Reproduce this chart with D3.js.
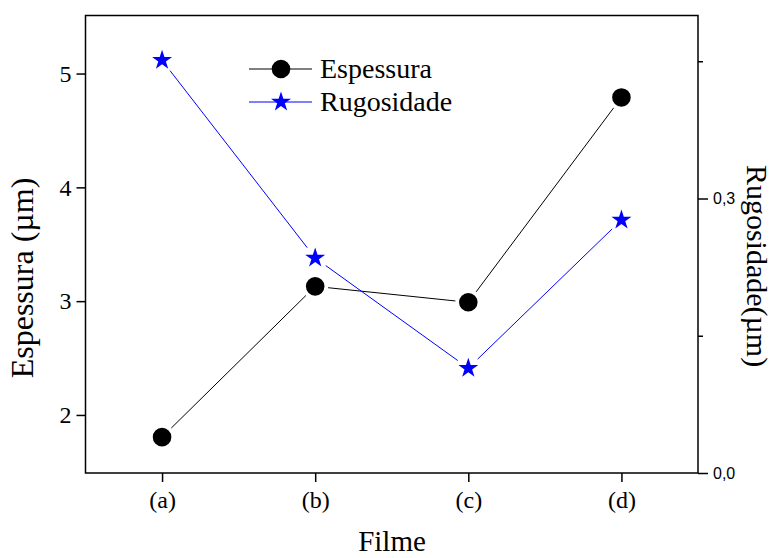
<!DOCTYPE html>
<html>
<head>
<meta charset="utf-8">
<script src="https://cdn.jsdelivr.net/npm/d3@7/dist/d3.min.js"></script>
<style>
  html, body { margin: 0; padding: 0; background: #fff; }
  svg { display: block; }
</style>
</head>
<body>
<svg id="chart" width="779" height="558"></svg>
<script>
// Film samples on the x axis
const categories = ["(a)", "(b)", "(c)", "(d)"];
// Thickness (µm), left axis
const espessura = [1.805, 3.13, 2.99, 4.79];
// Roughness (µm), right axis
const rugosidade = [0.451, 0.235, 0.1146, 0.2766];
// Axis ticks
const leftTicks = [2, 3, 4, 5];
const rightMajorTicks = [0.0, 0.3];
const rightMinorTicks = [0.15, 0.45];

const plot = { left: 85.5, top: 15.5, right: 698, bottom: 473 };
const serif = "'Liberation Serif', 'Times New Roman', serif";
const sans = "'Liberation Sans', Arial, sans-serif";

const svg = d3.select("#chart");

const x = d3.scalePoint().domain(categories).range([plot.left, plot.right]).padding(0.5);
const yL = d3.scaleLinear().domain([1.49, 5.51]).range([plot.bottom, plot.top]);
const yR = d3.scaleLinear().domain([0, 0.5]).range([plot.bottom, plot.top]);

// Axes
const gx = svg.append("g")
  .attr("transform", `translate(0,${plot.bottom})`)
  .call(d3.axisBottom(x).tickSize(9).tickPadding(9).tickSizeOuter(0));
gx.selectAll("text").attr("font-family", serif).attr("font-size", 24).attr("fill", "#000");

const gl = svg.append("g")
  .attr("transform", `translate(${plot.left},0)`)
  .call(d3.axisLeft(yL).tickValues(leftTicks).tickFormat(d3.format("d")).tickSize(9).tickPadding(5).tickSizeOuter(0));
gl.selectAll("text").attr("font-family", serif).attr("font-size", 24).attr("fill", "#000");

const commaFmt = d => d3.format(".1f")(d).replace(".", ",");
const gr = svg.append("g")
  .attr("transform", `translate(${plot.right},0)`)
  .call(d3.axisRight(yR).tickValues(rightMajorTicks).tickFormat(commaFmt).tickSize(10).tickPadding(5).tickSizeOuter(0));
gr.selectAll("text").attr("font-family", sans).attr("font-size", 16).attr("fill", "#000");

const grm = svg.append("g")
  .attr("transform", `translate(${plot.right},0)`)
  .call(d3.axisRight(yR).tickValues(rightMinorTicks).tickFormat("").tickSize(5).tickSizeOuter(0));

[gx, gl, gr, grm].forEach(g => {
  g.select(".domain").remove();
  g.selectAll("line").attr("stroke", "#000").attr("stroke-width", 1.5);
});

// Frame
svg.append("rect")
  .attr("x", plot.left).attr("y", plot.top)
  .attr("width", plot.right - plot.left).attr("height", plot.bottom - plot.top)
  .attr("fill", "none").attr("stroke", "#000").attr("stroke-width", 1.5);

// Connecting segments that stop short of the markers
function gappedSegments(points, gap) {
  const segs = [];
  for (let i = 0; i < points.length - 1; i++) {
    const [x0, y0] = points[i], [x1, y1] = points[i + 1];
    const dx = x1 - x0, dy = y1 - y0, len = Math.hypot(dx, dy);
    const ux = dx / len, uy = dy / len;
    segs.push([x0 + ux * gap, y0 + uy * gap, x1 - ux * gap, y1 - uy * gap]);
  }
  return segs;
}

function drawSeries(values, yScale, color, symbol) {
  const pts = categories.map((c, i) => [x(c), yScale(values[i])]);
  svg.append("g").selectAll("line")
    .data(gappedSegments(pts, 13))
    .join("line")
    .attr("x1", d => d[0]).attr("y1", d => d[1])
    .attr("x2", d => d[2]).attr("y2", d => d[3])
    .attr("stroke", color).attr("stroke-width", 1);
  svg.append("g").selectAll("path")
    .data(pts)
    .join("path")
    .attr("transform", d => `translate(${d[0]},${d[1]})`)
    .attr("d", symbol)
    .attr("fill", color);
}

const circleSym = d3.symbol(d3.symbolCircle, Math.PI * 9.3 * 9.3)();
const starSym = d3.symbol(d3.symbolStar, 124)();

drawSeries(espessura, yL, "#000", circleSym);
drawSeries(rugosidade, yR, "#0000ff", starSym);

// Legend
const legend = [
  { label: "Espessura", color: "#000", sym: circleSym, y: 69 },
  { label: "Rugosidade", color: "#0000ff", sym: starSym, y: 102 }
];
const lg = svg.append("g");
legend.forEach(d => {
  lg.append("line").attr("x1", 249).attr("x2", 312).attr("y1", d.y).attr("y2", d.y)
    .attr("stroke", d.color).attr("stroke-width", 1);
  lg.append("path").attr("transform", `translate(281,${d.y})`).attr("d", d.sym).attr("fill", d.color);
  lg.append("text").attr("x", 320).attr("y", d.y + 9)
    .attr("font-family", serif).attr("font-size", 28).attr("fill", "#000")
    .text(d.label);
});

// Axis titles
svg.append("text")
  .attr("x", 392).attr("y", 551).attr("text-anchor", "middle")
  .attr("font-family", serif).attr("font-size", 29).attr("fill", "#000")
  .text("Filme");

svg.append("text")
  .attr("transform", "translate(33,278) rotate(-90)").attr("text-anchor", "middle")
  .attr("font-family", serif).attr("font-size", 32).attr("fill", "#000")
  .text("Espessura (µm)");

svg.append("text")
  .attr("transform", "translate(747,266) rotate(90)").attr("text-anchor", "middle")
  .attr("font-family", serif).attr("font-size", 30).attr("fill", "#000")
  .text("Rugosidade(µm)");
</script>
</body>
</html>
